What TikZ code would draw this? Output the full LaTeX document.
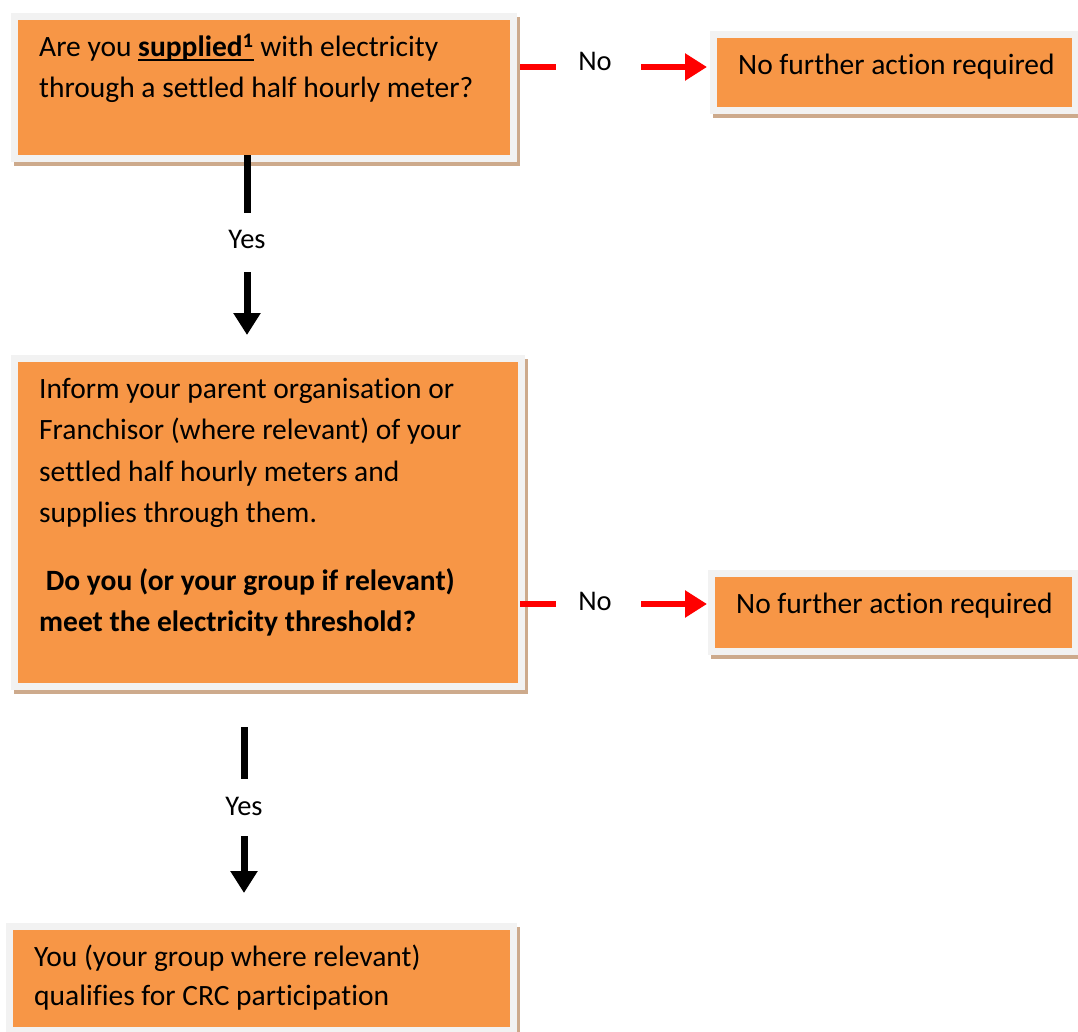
\documentclass[tikz,border=0pt]{standalone}
\usepackage{fontspec}
\setmainfont{Carlito}[Ligatures=NoCommon]
\usetikzlibrary{arrows.meta}
\definecolor{boxorange}{HTML}{F79646}
\definecolor{framegray}{HTML}{F2F2F2}
\definecolor{shadowtan}{RGB}{205,170,140}
\tikzset{
  flowbox/.style={anchor=north west, inner sep=0pt, fill=boxorange, line join=miter,
    preaction={draw=shadowtan, fill=shadowtan, line width=14pt, transform canvas={shift={(3pt,-4pt)}}},
    preaction={draw=framegray, line width=14pt}},
  redline/.style={draw=red, line width=6pt},
  blackline/.style={draw=black, line width=7pt},
  tipped/.style={-{Triangle[length=22pt,width=26pt]}},
  lbl/.style={inner sep=0pt, anchor=base, font=\fontsize{28.5}{34}\selectfont},
}
\newcommand{\boxtext}[3]{\begin{minipage}[t][#2][t]{#1}\fontsize{29.5}{41.5}\selectfont\raggedright\leftskip=21pt\rule{0pt}{36pt}#3\end{minipage}}
\newcommand{\thickul}[1]{\setbox0=\hbox{#1}\rlap{\rule[-5pt]{\wd0}{2pt}}\box0\relax}
\begin{document}
\begin{tikzpicture}[x=1pt,y=-1pt]
\useasboundingbox (0,0) rectangle (1078,1032);
\clip (0,0) rectangle (1078,1032);
\node[flowbox] (b1) at (18,20) {\boxtext{492pt}{135pt}{Are you \thickul{\textbf{supplied\textsuperscript{1}}} with electricity\\through a settled half hourly meter?}};
\node[flowbox] (b2) at (717,38) {\boxtext{355pt}{69pt}{No further action required}};
\node[flowbox] (b3) at (18,362) {\boxtext{500pt}{321pt}{Inform your parent organisation or\\Franchisor (where relevant) of your\\settled half hourly meters and\\supplies through them.\\[26pt]
\textbf{\ Do you (or your group if relevant)}\\\textbf{meet the electricity threshold?}}};
\node[flowbox] (b4) at (715,577) {\boxtext{357pt}{71pt}{No further action required}};
\node[flowbox] (b5) at (13,930) {\boxtext{497pt}{97pt}{You (your group where relevant)\\[-2pt]qualifies for CRC participation}};

\node[lbl] (no1) at (595,71) {No};
\node[lbl] (no2) at (595,610) {No};
\node[lbl] (yes1) at (247,249) {Yes};
\node[lbl] (yes2) at (244,815) {Yes};

\coordinate (r1a) at (556,67);
\coordinate (r1b) at (641,67);
\coordinate (r2a) at (556,604);
\coordinate (r2b) at (641,604);
\coordinate (k1a) at (247,213);
\coordinate (k1b) at (247,272);
\coordinate (k2a) at (244,779);
\coordinate (k2b) at (244,836);

\draw[redline, shorten <=10pt] (b1.east |- r1a) -- (r1a);
\draw[redline, tipped, shorten >=10pt] (r1b) -- (r1b -| b2.west);
\draw[redline, shorten <=2pt] (b3.east |- r2a) -- (r2a);
\draw[redline, tipped, shorten >=8pt] (r2b) -- (r2b -| b4.west);

\draw[blackline] (k1a |- b1.south) -- (k1a);
\draw[blackline, tipped, shorten >=27pt] (k1b) -- (k1b |- b3.north);
\draw[blackline, shorten <=44pt] (k2a |- b3.south) -- (k2a);
\draw[blackline, tipped, shorten >=37pt] (k2b) -- (k2b |- b5.north);
\end{tikzpicture}
\end{document}
